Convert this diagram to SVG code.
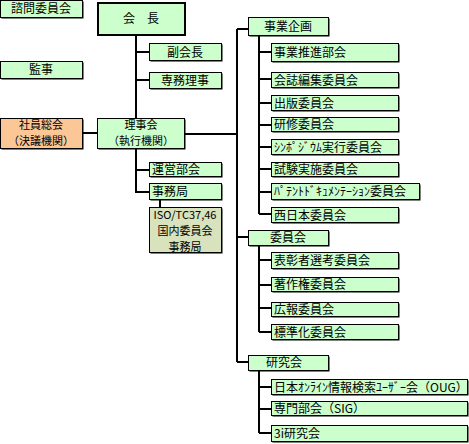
<svg xmlns="http://www.w3.org/2000/svg" width="469" height="444" viewBox="0 0 469 444">
<style>
text{font-family:"Noto Sans CJK JP","Noto Sans",sans-serif;font-size:12px;fill:#000}
.c{text-anchor:middle}
.m{font-size:11px}
.b{fill:#CCFFCC;stroke:#000;stroke-width:1}
.o{fill:#FBC797;stroke:#000;stroke-width:1}
.t{fill:#D8E2BC;stroke:#000;stroke-width:1}
.s{fill:#000}
.k{fill:#CCFFCC;stroke:#000;stroke-width:2}
#connectors path{stroke:#000;stroke-width:2;fill:none}
</style>
<rect width="469" height="444" fill="#fff"/>
<g id="connectors">
<path d="M136,35V118M136,52H149M136,80H149"/>
<path d="M83,133H97"/>
<path d="M185,134H237"/>
<path d="M237,29V362M237,29H248M237,237H248M237,362H248"/>
<path d="M136,149V192H149M136,170H149"/>
<path d="M160,200V207"/>
<path d="M259,36V214M259,52H271M259,79H271M259,103H271M259,125H271M259,147H271M259,169H271M259,192H271M259,214H271"/>
<path d="M259,246V332M259,260H271M259,285H271M259,308H271M259,332H271"/>
<path d="M259,371V433M259,387H271M259,409H271M259,433H271"/>
</g>
<g id="n-shimon"><rect class="s" x="1.5" y="1.5" width="82" height="17"/><rect class="b" x="0.5" y="0.5" width="82" height="17"/><text class="c" x="41" y="13">諮問委員会</text></g>
<g id="n-kaicho"><rect class="k" x="98" y="3" width="87" height="32"/><text class="c" x="141" y="23">会　長</text></g>
<g id="n-fukukaicho"><rect class="s" x="150.5" y="44.5" width="72" height="17"/><rect class="b" x="149.5" y="43.5" width="72" height="17"/><text class="c" x="185" y="57">副会長</text></g>
<g id="n-senmu"><rect class="s" x="150.5" y="73.5" width="72" height="16"/><rect class="b" x="149.5" y="72.5" width="72" height="16"/><text class="c" x="185" y="85">専務理事</text></g>
<g id="n-kanji"><rect class="s" x="1.5" y="62.5" width="82" height="17"/><rect class="b" x="0.5" y="61.5" width="82" height="17"/><text class="c" x="41" y="74">監事</text></g>
<g id="n-soukai"><rect class="s" x="1.5" y="119.5" width="82" height="30"/><rect class="o" x="0.5" y="118.5" width="82" height="30"/><text class="c m" x="41" y="129">社員総会</text><text class="c m" x="41" y="145">（決議機関）</text></g>
<g id="n-rijikai"><rect class="s" x="98.5" y="119.5" width="87" height="30"/><rect class="b" x="97.5" y="118.5" width="87" height="30"/><text class="c m" x="141" y="129">理事会</text><text class="c m" x="141" y="145">（執行機関）</text></g>
<g id="n-unei"><rect class="s" x="150.5" y="163.5" width="72" height="14"/><rect class="b" x="149.5" y="162.5" width="72" height="14"/><text x="152" y="174">運営部会</text></g>
<g id="n-jimukyoku"><rect class="s" x="150.5" y="184.5" width="72" height="16"/><rect class="b" x="149.5" y="183.5" width="72" height="16"/><text x="152" y="196">事務局</text></g>
<g id="n-iso"><rect class="s" x="150.5" y="208.5" width="72" height="45"/><rect class="t" x="149.5" y="207.5" width="72" height="45"/><text class="c m" x="185" y="219">ISO/TC37,46</text><text class="c m" x="185" y="235">国内委員会</text><text class="c m" x="185" y="251">事務局</text></g>
<g id="n-jigyokikaku"><rect class="s" x="249.5" y="18.5" width="80" height="18"/><rect class="b" x="248.5" y="17.5" width="80" height="18"/><text class="c" x="288" y="31">事業企画</text></g>
<g id="n-suishin"><rect class="s" x="272.5" y="44.5" width="127" height="18"/><rect class="b" x="271.5" y="43.5" width="127" height="18"/><text x="274" y="57">事業推進部会</text></g>
<g id="n-kaishi"><rect class="s" x="272.5" y="73.5" width="127" height="15"/><rect class="b" x="271.5" y="72.5" width="127" height="15"/><text x="274" y="85">会誌編集委員会</text></g>
<g id="n-shuppan"><rect class="s" x="272.5" y="96.5" width="127" height="15"/><rect class="b" x="271.5" y="95.5" width="127" height="15"/><text x="274" y="108">出版委員会</text></g>
<g id="n-kenshu"><rect class="s" x="272.5" y="118.5" width="127" height="14"/><rect class="b" x="271.5" y="117.5" width="127" height="14"/><text x="274" y="129">研修委員会</text></g>
<g id="n-sympo"><rect class="s" x="272.5" y="140.5" width="127" height="15"/><rect class="b" x="271.5" y="139.5" width="127" height="15"/><text x="274" y="152">ｼﾝﾎﾟｼﾞｳﾑ実行委員会</text></g>
<g id="n-shiken"><rect class="s" x="272.5" y="163.5" width="127" height="14"/><rect class="b" x="271.5" y="162.5" width="127" height="14"/><text x="274" y="174">試験実施委員会</text></g>
<g id="n-patent"><rect class="s" x="272.5" y="184.5" width="148" height="16"/><rect class="b" x="271.5" y="183.5" width="148" height="16"/><text x="274" y="196">ﾊﾟﾃﾝﾄﾄﾞｷｭﾒﾝﾃｰｼｮﾝ委員会</text></g>
<g id="n-nishinihon"><rect class="s" x="272.5" y="208.5" width="127" height="15"/><rect class="b" x="271.5" y="207.5" width="127" height="15"/><text x="274" y="220">西日本委員会</text></g>
<g id="n-iinkai"><rect class="s" x="249.5" y="231.5" width="80" height="15"/><rect class="b" x="248.5" y="230.5" width="80" height="15"/><text class="c" x="288" y="242">委員会</text></g>
<g id="n-hyosho"><rect class="s" x="272.5" y="253.5" width="127" height="16"/><rect class="b" x="271.5" y="252.5" width="127" height="16"/><text x="274" y="265">表彰者選考委員会</text></g>
<g id="n-chosaku"><rect class="s" x="272.5" y="278.5" width="127" height="14"/><rect class="b" x="271.5" y="277.5" width="127" height="14"/><text x="274" y="289">著作権委員会</text></g>
<g id="n-koho"><rect class="s" x="272.5" y="303.5" width="127" height="14"/><rect class="b" x="271.5" y="302.5" width="127" height="14"/><text x="274" y="314">広報委員会</text></g>
<g id="n-hyojunka"><rect class="s" x="272.5" y="325.5" width="127" height="15"/><rect class="b" x="271.5" y="324.5" width="127" height="15"/><text x="274" y="337">標準化委員会</text></g>
<g id="n-kenkyukai"><rect class="s" x="249.5" y="356.5" width="80" height="15"/><rect class="b" x="248.5" y="355.5" width="80" height="15"/><text class="c" x="284" y="367">研究会</text></g>
<g id="n-oug"><rect class="s" x="272.5" y="380.5" width="196" height="15"/><rect class="b" x="271.5" y="379.5" width="196" height="15"/><text x="274" y="392">日本ｵﾝﾗｲﾝ情報検索ﾕｰｻﾞｰ会（OUG）</text></g>
<g id="n-sig"><rect class="s" x="272.5" y="402.5" width="196" height="14"/><rect class="b" x="271.5" y="401.5" width="196" height="14"/><text x="274" y="413">専門部会（SIG）</text></g>
<g id="n-3i"><rect class="s" x="272.5" y="426.5" width="196" height="16"/><rect class="b" x="271.5" y="425.5" width="196" height="16"/><text x="274" y="438">3i研究会</text></g>
</svg>
